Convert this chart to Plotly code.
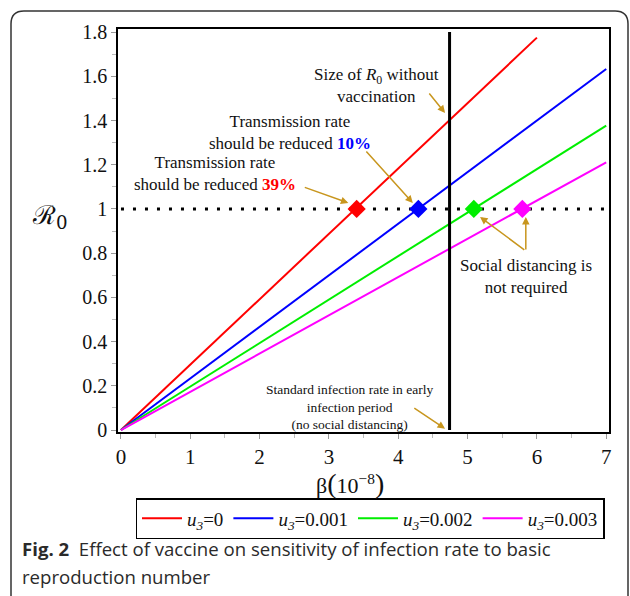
import plotly.graph_objects as go

# ---- data ----
series_names = ["<i>u<sub>3</sub></i>=0", "<i>u<sub>3</sub></i>=0.001",
                "<i>u<sub>3</sub></i>=0.002", "<i>u<sub>3</sub></i>=0.003"]
series_colors = ["#ff0000", "#0000ff", "#00ee00", "#ff00ff"]
beta_start = [0, 0, 0, 0]
beta_end = [6.0, 7.0, 7.0, 7.0]
r0_start = [0, 0, 0, 0]
r0_end = [1.775, 1.633, 1.377, 1.211]
threshold_beta = [3.40, 4.29, 5.09, 5.79]   # beta where R0 = 1
threshold_r0 = [1, 1, 1, 1]
beta_standard = 4.74
x_ticks = [0, 1, 2, 3, 4, 5, 6, 7]
y_ticks = [0, 0.2, 0.4, 0.6, 0.8, 1, 1.2, 1.4, 1.6, 1.8]
y_ticklabels = ["0", "0.2", "0.4", "0.6", "0.8", "1", "1.2", "1.4", "1.6", "1.8"]

W, H = 630, 596
ML, MR, MT, MB = 118, 21, 29, 164
PW, PH = W - ML - MR, H - MT - MB

def px(xp):
    return (xp - ML) / PW

def py(yp):
    return (H - MB - yp) / PH

SERIF = "Liberation Serif, Times New Roman, serif"
GOLD = "#c8961e"

fig = go.Figure()
for i in range(4):
    fig.add_trace(go.Scatter(
        x=[beta_start[i], beta_end[i]], y=[r0_start[i], r0_end[i]],
        mode="lines", name=series_names[i],
        line=dict(color=series_colors[i], width=2)))

# horizontal R0 = 1 dotted line
fig.add_trace(go.Scatter(x=[0, 7], y=[1, 1], mode="lines", showlegend=False,
                         line=dict(color="black", width=3, dash="3px,9px")))
# vertical standard infection rate line
fig.add_trace(go.Scatter(x=[beta_standard, beta_standard], y=[0, 1.8], mode="lines",
                         showlegend=False, line=dict(color="black", width=3)))
# threshold diamonds
fig.add_trace(go.Scatter(x=threshold_beta, y=threshold_r0, mode="markers", showlegend=False,
                         marker=dict(symbol="diamond", size=14, color=series_colors,
                                     line=dict(width=0))))

annotations = []
def arrow(hx, hy, tx, ty):
    annotations.append(dict(x=hx, y=hy, ax=tx, ay=ty, xref="x", yref="y",
                            axref="x", ayref="y", text="", showarrow=True,
                            arrowhead=2, arrowsize=1, arrowwidth=1.5,
                            arrowcolor=GOLD))

def label(xp, yp, text, size=17):
    annotations.append(dict(x=px(xp), y=py(yp), xref="paper", yref="paper",
                            text=text, showarrow=False, align="center",
                            xanchor="center", yanchor="middle",
                            font=dict(family=SERIF, size=size, color="#111")))

arrow(4.675, 1.434, 4.43, 1.529)
arrow(4.21, 1.027, 3.52, 1.267)
arrow(3.28, 1.027, 2.63, 1.10)
arrow(5.18, 0.964, 5.84, 0.81)
arrow(5.84, 0.964, 5.84, 0.81)
arrow(4.675, 0.006, 4.21, 0.104)

label(376, 85, "Size of <i>R</i><sub>0</sub> without<br>vaccination")
label(290, 132, "Transmission rate<br>should be reduced <b><span style='color:#0000ff'>10%</span></b>")
label(215, 174, "Transmission rate<br>should be reduced <b><span style='color:#ff0000'>39%</span></b>")
label(526, 276, "Social distancing is<br>not required")
label(349, 407, "Standard infection rate in early<br>infection period<br>(no social distancing)", size=13.5)

# axis titles
annotations.append(dict(x=px(50), y=py(216), xref="paper", yref="paper", showarrow=False,
                        text="ℛ<sub>0</sub>", xanchor="center", yanchor="middle",
                        font=dict(family="DejaVu Serif, serif", size=26, color="#111")))
annotations.append(dict(x=px(350), y=py(483), xref="paper", yref="paper", showarrow=False,
                        text="β<span style='font-size:28px'>(</span>10<sup>−8</sup><span style='font-size:28px'>)</span>",
                        xanchor="center", yanchor="middle",
                        font=dict(family=SERIF, size=22, color="#111")))

# caption
annotations.append(dict(x=px(20), y=py(548), xref="paper", yref="paper", showarrow=False,
                        text="<b>Fig. 2</b>  Effect of vaccine on sensitivity of infection rate to basic",
                        xanchor="left", yanchor="middle", align="left",
                        font=dict(family="Open Sans, sans-serif", size=18.6, color="#2a2a2a")))
annotations.append(dict(x=px(20), y=py(576), xref="paper", yref="paper", showarrow=False,
                        text="reproduction number",
                        xanchor="left", yanchor="middle", align="left",
                        font=dict(family="Open Sans, sans-serif", size=18.6, color="#2a2a2a")))

# outer rounded frame
L, R, T, B, r = 11, 628, 11, 596, 13
frame = (f"M {px(L)},{py(B)} L {px(L)},{py(T + r)} Q {px(L)},{py(T)} {px(L + r)},{py(T)} "
         f"L {px(R - r)},{py(T)} Q {px(R)},{py(T)} {px(R)},{py(T + r)} L {px(R)},{py(B)}")

fig.update_layout(
    width=W, height=H,
    margin=dict(l=ML, r=MR, t=MT, b=MB),
    paper_bgcolor="white", plot_bgcolor="white",
    font=dict(family=SERIF, size=20, color="#111"),
    showlegend=True,
    legend=dict(orientation="h", x=px(370), y=py(498), xanchor="center", yanchor="top",
                bordercolor="black", borderwidth=1.5, bgcolor="white",
                font=dict(family=SERIF, size=19, color="#111"),
                itemwidth=40, tracegroupgap=0),
    annotations=annotations,
    shapes=[dict(type="path", path=frame, xref="paper", yref="paper",
                 line=dict(color="#333", width=1.5), layer="above")],
    xaxis=dict(range=[-0.043, 7.04], tickvals=x_ticks, ticks="outside", ticklen=5,
               tickcolor="#999", tickwidth=1, showgrid=False, zeroline=False,
               showline=True, linecolor="black", linewidth=1.5, mirror=True,
               tickfont=dict(family=SERIF, size=21, color="#111"),
               minor=dict(dtick=0.5, ticks="outside", ticklen=4, tickcolor="#bbb")),
    yaxis=dict(range=[-0.009, 1.814], tickvals=y_ticks, ticktext=y_ticklabels,
               ticks="outside", ticklen=5, tickcolor="#999", tickwidth=1,
               showgrid=False, zeroline=False,
               showline=True, linecolor="black", linewidth=1.5, mirror=True,
               tickfont=dict(family=SERIF, size=20, color="#111"),
               minor=dict(dtick=0.1, ticks="outside", ticklen=4, tickcolor="#bbb")),
)

fig.write_html("out.html", config={"displayModeBar": False},
               post_script="document.body.style.margin='0';document.body.style.padding='0';")
